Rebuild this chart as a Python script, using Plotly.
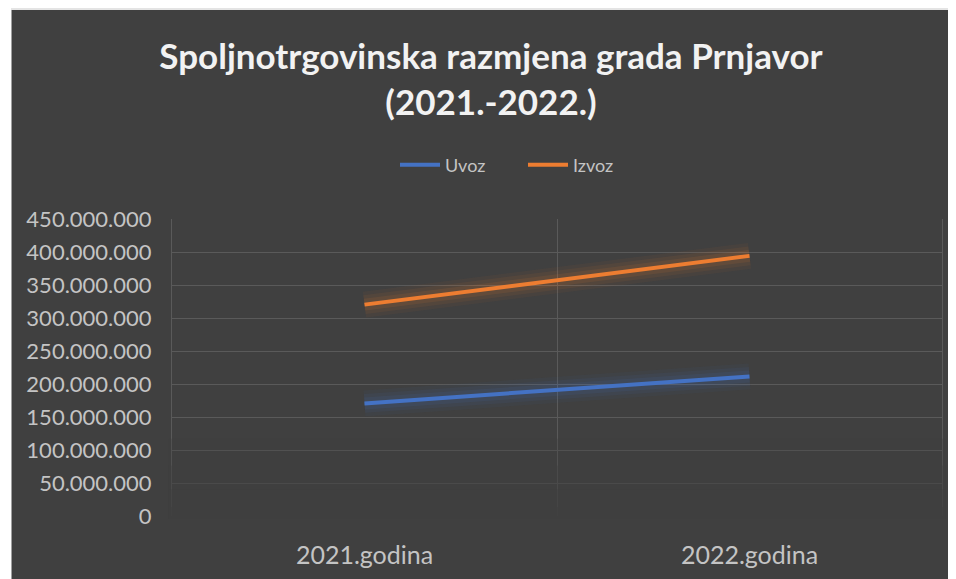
import plotly.graph_objects as go

categories = ["2021.godina", "2022.godina"]
uvoz = [171_000_000, 212_000_000]
izvoz = [321_000_000, 395_000_000]
series_names = ["Uvoz", "Izvoz"]
tick_values = [0, 50_000_000, 100_000_000, 150_000_000, 200_000_000,
               250_000_000, 300_000_000, 350_000_000, 400_000_000, 450_000_000]

BLUE = "#4472C4"
ORANGE = "#ED7D31"
BG = "#404040"
TXT = "#c4c4c4"
GRID = "#5a5a5a"
FONT = "Lato"

# page is drawn with an 8px body margin, so work in page pixels and shift
OFF = 8
W, H = 956 - OFF, 579 - OFF
PL, PR, PT, PB = 172, 942, 219, 516          # plot area in page pixels
L, R, T, B = PL - OFF, (956 - PR), PT - OFF, (579 - PB)
pw, ph = PR - PL, PB - PT


def px_x(p):
    return (p - PL) / pw


def px_y(p):
    return (PB - p) / ph


fig = go.Figure()
glow_layers = [(26, 0.05), (19, 0.07), (12, 0.10)]
for vals, rgb in [(uvoz, "68,114,196"), (izvoz, "237,125,49")]:
    for w, a in glow_layers:
        fig.add_trace(go.Scatter(x=categories, y=vals, mode="lines",
                                 line=dict(color=f"rgba({rgb},{a})", width=w),
                                 showlegend=False, hoverinfo="skip"))
fig.add_trace(go.Scatter(x=categories, y=uvoz, mode="lines", name=series_names[0],
                         line=dict(color=BLUE, width=4)))
fig.add_trace(go.Scatter(x=categories, y=izvoz, mode="lines", name=series_names[1],
                         line=dict(color=ORANGE, width=4)))

fade = []
for top, a in [(0.26, 0.30), (0.17, 0.35), (0.09, 0.45), (0.03, 0.6)]:
    fade.append(dict(type="rect", xref="paper", yref="paper", x0=-0.005, x1=1.005,
                     y0=-0.01, y1=top, fillcolor=BG, opacity=a,
                     line=dict(width=0), layer="above"))

fig.update_layout(
    width=W, height=H,
    margin=dict(l=L, r=R, t=T, b=B, autoexpand=False),
    paper_bgcolor=BG, plot_bgcolor=BG,
    separators=",.",
    title=dict(text="Spoljnotrgovinska razmjena grada Prnjavor<br>(2021.-2022.)",
               x=(491 - OFF) / W, xanchor="center", y=1 - 61 / H, yanchor="middle",
               font=dict(family=FONT, size=35, color="#f2f2f2", weight="bold")),
    legend=dict(orientation="h", x=px_x(395), xanchor="left", y=px_y(165),
                yanchor="middle", entrywidth=73, entrywidthmode="pixels",
                font=dict(family=FONT, size=18, color=TXT),
                bgcolor="rgba(0,0,0,0)", itemwidth=40, tracegroupgap=0),
    xaxis=dict(type="category", tickson="boundaries", showgrid=True,
               gridcolor=GRID, gridwidth=1, showline=False, ticks="",
               range=[-0.5, 1.5],
               tickfont=dict(family=FONT, size=25, color=TXT), ticklabelstandoff=22),
    yaxis=dict(range=[0, 451_000_000], tickvals=tick_values, tickformat=",d",
               showgrid=True, gridcolor=GRID, gridwidth=1, zeroline=False,
               showline=True, mirror=True, linecolor=GRID, linewidth=1, ticks="",
               tickfont=dict(family=FONT, size=22, color=TXT), ticklabelstandoff=15),
    shapes=fade + [
        dict(type="rect", xref="paper", yref="paper",
             x0=px_x(0), x1=px_x(956), y0=px_y(10), y1=px_y(0),
             fillcolor="#e4e4e4", line=dict(width=0), layer="above"),
        dict(type="rect", xref="paper", yref="paper",
             x0=px_x(0), x1=px_x(11), y0=px_y(579), y1=px_y(0),
             fillcolor="#ffffff", line=dict(width=0), layer="above"),
        dict(type="line", xref="paper", yref="paper",
             x0=px_x(11.5), x1=px_x(11.5), y0=px_y(579), y1=px_y(10),
             line=dict(color="#a0a0a0", width=1), layer="above"),
    ],
)

fig.write_html("out.html")
